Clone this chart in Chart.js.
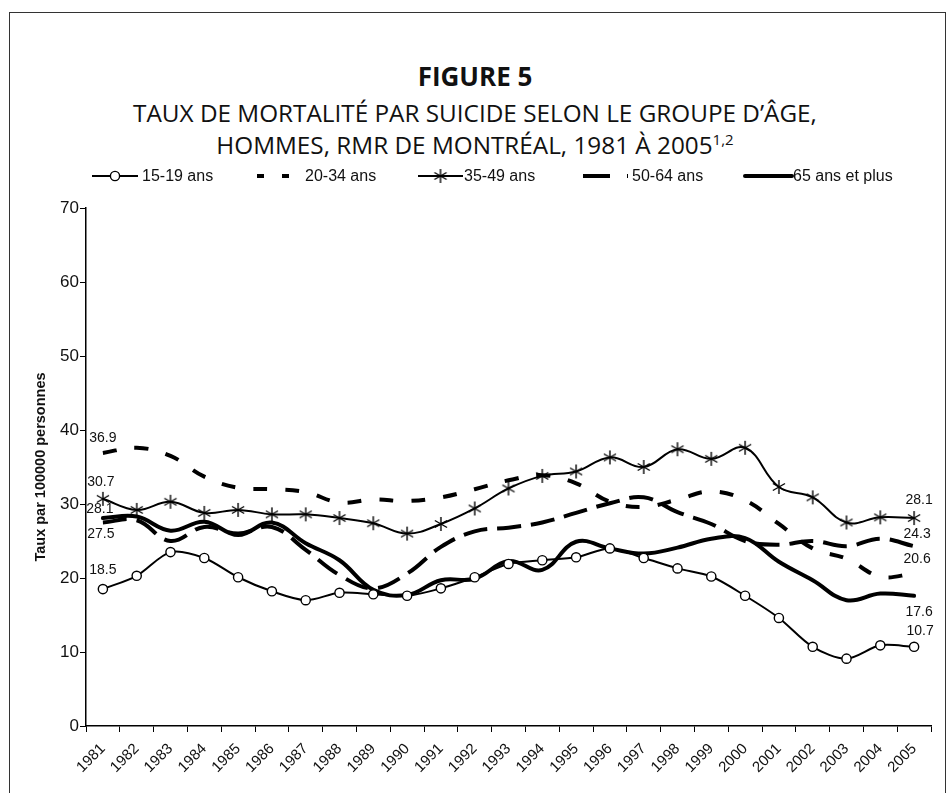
<!DOCTYPE html>
<html>
<head>
<meta charset="utf-8">
<script src="https://cdn.jsdelivr.net/npm/chart.js@4.4.1/dist/chart.umd.min.js"></script>
<style>
  html, body { margin: 0; padding: 0; background: #fff; overflow: hidden; }
  .page { position: relative; width: 950px; height: 793px; }
  .frame {
    position: absolute; left: 9px; top: 12px; width: 937px; height: 900px;
    border: 1.5px solid #333; box-sizing: border-box;
  }
  .head {
    position: absolute; left: 0; top: 60px; width: 950px; text-align: center;
    font-family: "Open Sans", sans-serif; color: #111;
  }
  .head .fig { font-weight: 700; font-size: 26px; line-height: 32px; }
  .head .sub { font-size: 24.3px; line-height: 32px; margin-top: 5px; }
  .head sup { font-size: 15px; vertical-align: 9px; line-height: 0; }
  canvas { position: absolute; left: 0; top: 0; }
</style>
</head>
<body>
<div class="page">
  <div class="frame"></div>
  <div class="head">
    <div class="fig">FIGURE 5</div>
    <div class="sub">TAUX DE MORTALITÉ PAR SUICIDE SELON LE GROUPE D’ÂGE,<br>HOMMES, RMR DE MONTRÉAL, 1981 À 2005<sup>1,2</sup></div>
  </div>
  <canvas id="chart" width="950" height="793"></canvas>
</div>
<script>
const years = ['1981', '1982', '1983', '1984', '1985', '1986', '1987', '1988', '1989', '1990',
  '1991', '1992', '1993', '1994', '1995', '1996', '1997', '1998', '1999', '2000',
  '2001', '2002', '2003', '2004', '2005'];

const seriesNames = ['15-19 ans', '20-34 ans', '35-49 ans', '50-64 ans', '65 ans et plus'];

const age15to19 = [18.5, 20.3, 23.5, 22.7, 20.1, 18.2, 17.0, 18.0, 17.8, 17.6,
  18.6, 20.1, 21.9, 22.4, 22.8, 24.0, 22.7, 21.3, 20.2, 17.6,
  14.6, 10.7, 9.1, 10.9, 10.7];
const age20to34 = [36.9, 37.6, 36.5, 33.7, 32.2, 32.0, 31.6, 30.2, 30.6, 30.4,
  30.9, 32.0, 33.2, 33.9, 32.8, 30.3, 29.6, 30.6, 31.7, 30.5,
  27.3, 24.0, 22.6, 20.2, 20.6];
const age35to49 = [30.7, 29.2, 30.3, 28.8, 29.2, 28.6, 28.6, 28.1, 27.4, 26.0,
  27.3, 29.4, 32.1, 33.8, 34.4, 36.3, 35.0, 37.4, 36.1, 37.6,
  32.3, 30.9, 27.5, 28.2, 28.1];
const age50to64 = [27.5, 27.8, 25.0, 26.9, 26.0, 26.9, 23.8, 20.4, 18.6, 20.6,
  24.2, 26.3, 26.8, 27.5, 28.8, 30.1, 30.9, 28.9, 27.3, 25.0,
  24.5, 25.0, 24.3, 25.3, 24.3];
const age65plus = [28.1, 28.3, 26.4, 27.6, 25.8, 27.5, 24.7, 22.4, 18.4, 17.7,
  19.7, 19.9, 22.3, 21.1, 24.9, 24.0, 23.3, 24.1, 25.3, 25.4,
  22.2, 19.7, 17.0, 17.9, 17.6];

const yTicks = [0, 10, 20, 30, 40, 50, 60, 70];

// where the first / last value labels sit, relative to their point
const endLabelOffsets = [
  { first: [0, -19], last: [6, -16] },
  { first: [0, -15], last: [3, -14] },
  { first: [-2, -17], last: [5, -18] },
  { first: [-2, 12], last: [3, -12] },
  { first: [-3, -9], last: [5, 16] },
];

// six-armed asterisk used as the 35-49 marker
function makeAsterisk(size) {
  const c = document.createElement('canvas');
  c.width = size;
  c.height = size;
  const g = c.getContext('2d');
  const r = size / 2 - 1;
  g.strokeStyle = '#000';
  g.lineWidth = 1.4;
  g.translate(size / 2, size / 2);
  [90, 30, -30].forEach((deg) => {
    const a = deg * Math.PI / 180;
    g.beginPath();
    g.moveTo(-Math.cos(a) * r, -Math.sin(a) * r);
    g.lineTo(Math.cos(a) * r, Math.sin(a) * r);
    g.stroke();
  });
  return c;
}
const asterisk = makeAsterisk(16);

const datasets = [
  {
    label: seriesNames[0], data: age15to19,
    borderColor: '#000', borderWidth: 2, tension: 0.3,
    pointStyle: 'circle', pointRadius: 4.6, pointBorderWidth: 1.4,
    pointBackgroundColor: '#fff', pointBorderColor: '#000',
  },
  {
    label: seriesNames[1], data: age20to34,
    borderColor: '#000', borderWidth: 4, tension: 0.4,
    borderDash: [14, 18], borderCapStyle: 'butt', pointRadius: 0,
  },
  {
    label: seriesNames[2], data: age35to49,
    borderColor: '#000', borderWidth: 2, tension: 0.4,
    pointStyle: asterisk, pointRadius: 7,
  },
  {
    label: seriesNames[3], data: age50to64,
    borderColor: '#000', borderWidth: 4, tension: 0.4,
    borderDash: [24, 10], borderCapStyle: 'butt', pointRadius: 0,
  },
  {
    label: seriesNames[4], data: age65plus,
    borderColor: '#000', borderWidth: 4, tension: 0.4,
    borderCapStyle: 'round', pointRadius: 0,
  },
];

const endLabels = {
  id: 'endLabels',
  afterDatasetsDraw(chart) {
    const { ctx } = chart;
    ctx.save();
    ctx.font = '14px "Liberation Sans", Arial, sans-serif';
    ctx.fillStyle = '#111';
    ctx.textAlign = 'center';
    ctx.textBaseline = 'middle';
    chart.data.datasets.forEach((ds, i) => {
      const pts = chart.getDatasetMeta(i).data;
      const off = endLabelOffsets[i];
      const first = pts[0];
      const last = pts[pts.length - 1];
      ctx.fillText(ds.data[0].toFixed(1), first.x + off.first[0], first.y + off.first[1]);
      ctx.fillText(ds.data[ds.data.length - 1].toFixed(1), last.x + off.last[0], last.y + off.last[1]);
    });
    ctx.restore();
  },
};

// legend laid out like the original: sample line, then text
const legendSlots = [
  { x0: 92, x1: 138, text: 142 },
  { x0: 257, x1: 289, text: 305 },
  { x0: 418, x1: 463, text: 464 },
  { x0: 583, x1: 628, text: 632 },
  { x0: 745, x1: 792, text: 793 },
];
const sampleLegend = {
  id: 'sampleLegend',
  afterDraw(chart) {
    const { ctx } = chart;
    const y = 176;
    ctx.save();
    ctx.strokeStyle = '#000';
    ctx.fillStyle = '#000';
    legendSlots.forEach((slot, i) => {
      const ds = chart.data.datasets[i];
      ctx.save();
      ctx.lineWidth = ds.borderWidth;
      ctx.lineCap = ds.borderCapStyle || 'butt';
      if (i === 1) ctx.setLineDash([7, 18]);
      if (i === 3) ctx.setLineDash([27, 17]);
      ctx.beginPath();
      ctx.moveTo(slot.x0, y);
      ctx.lineTo(slot.x1, y);
      ctx.stroke();
      ctx.restore();
      const mid = (slot.x0 + slot.x1) / 2;
      if (i === 0) {
        ctx.save();
        ctx.lineWidth = 1.4;
        ctx.fillStyle = '#fff';
        ctx.beginPath();
        ctx.arc(mid, y, 4.6, 0, Math.PI * 2);
        ctx.fill();
        ctx.stroke();
        ctx.restore();
      }
      if (i === 2) {
        ctx.drawImage(asterisk, mid - 8, y - 8);
      }
      ctx.font = '16px "Liberation Sans", Arial, sans-serif';
      ctx.textBaseline = 'middle';
      ctx.fillStyle = '#111';
      ctx.fillText(ds.label, slot.text, y + 1);
    });
    ctx.restore();
  },
};

new Chart(document.getElementById('chart'), {
  type: 'line',
  data: { labels: years, datasets },
  plugins: [endLabels, sampleLegend],
  options: {
    responsive: false,
    animation: false,
    devicePixelRatio: 1,
    layout: { padding: { top: 208, right: 19, bottom: 0, left: 0 } },
    plugins: {
      legend: { display: false },
      tooltip: { enabled: false },
      title: { display: false },
    },
    scales: {
      x: {
        type: 'category',
        offset: true,
        grid: { offset: true, drawOnChartArea: false, drawTicks: true, tickLength: 6, color: '#000' },
        border: { display: true, color: '#000', width: 1.5 },
        ticks: {
          color: '#111', minRotation: 45, maxRotation: 45, autoSkip: false, padding: 8,
          font: { family: '"Liberation Sans", Arial, sans-serif', size: 15 },
        },
        afterFit(scale) { scale.height = 67; },
      },
      y: {
        min: 0,
        max: 70,
        afterBuildTicks(scale) { scale.ticks = yTicks.map((v) => ({ value: v })); },
        grid: { drawOnChartArea: false, drawTicks: true, tickLength: 6, color: '#000' },
        border: { display: true, color: '#000', width: 1.5 },
        ticks: {
          color: '#111', padding: 1,
          font: { family: '"Liberation Sans", Arial, sans-serif', size: 17 },
        },
        title: {
          display: true,
          text: 'Taux par 100000 personnes',
          color: '#111',
          padding: { top: 32, bottom: 0 },
          font: { family: '"Liberation Sans", Arial, sans-serif', size: 14.5, weight: 'bold' },
        },
        afterFit(scale) { scale.width = 86; },
      },
    },
  },
});
</script>
</body>
</html>
